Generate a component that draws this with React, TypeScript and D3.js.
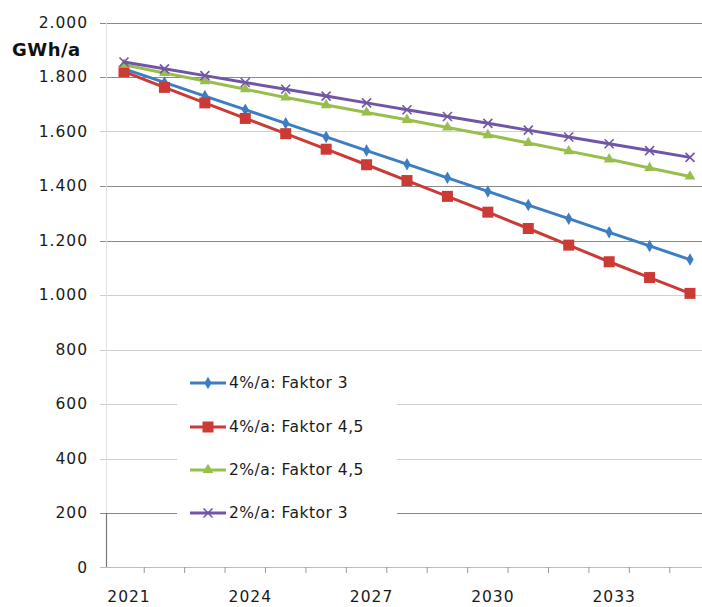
import React from "react";
import * as d3 from "d3";

const years = [2021, 2022, 2023, 2024, 2025, 2026, 2027, 2028, 2029, 2030, 2031, 2032, 2033, 2034, 2035];
const xTickLabels = [2021, 2024, 2027, 2030, 2033];
const yTicks = [0, 200, 400, 600, 800, 1000, 1200, 1400, 1600, 1800, 2000];
const darkGrid = [200, 1200, 1400, 1800, 2000];

const blue4F3 = [1830, 1780, 1730, 1680, 1630, 1580, 1530, 1480, 1430, 1380, 1330, 1280, 1230, 1180, 1130];
const red4F45 = [1820, 1762, 1705, 1648, 1592, 1535, 1478, 1420, 1362, 1304, 1244, 1183, 1122, 1064, 1006];
const green2F45 = [1845, 1815, 1785, 1755, 1725, 1697, 1670, 1643, 1615, 1587, 1558, 1528, 1498, 1466, 1435];
const purple2F3 = [1855, 1830, 1805, 1780, 1755, 1730, 1705, 1680, 1655, 1630, 1605, 1580, 1555, 1530, 1505];

const seriesNames = ["4%/a: Faktor 3", "4%/a: Faktor 4,5", "2%/a: Faktor 4,5", "2%/a: Faktor 3"];
const seriesValues = [blue4F3, red4F45, green2F45, purple2F3];
const seriesColors = ["#3C7DC4", "#CC3A36", "#98BE4C", "#7256A6"];
const seriesMarkers = ["diamond", "square", "triangle", "x"];

const W = 702;
const H = 607;
const font = "'DejaVu Sans', Verdana, sans-serif";

function Marker({ kind, x, y, color }: { kind: string; x: number; y: number; color: string }) {
  if (kind === "diamond") {
    const p = d3.symbol(d3.symbolDiamond, 45)();
    return <path d={p || ""} transform={`translate(${x},${y})`} fill={color} />;
  }
  if (kind === "square") {
    return <rect x={x - 5.5} y={y - 5.5} width={11} height={11} fill={color} />;
  }
  if (kind === "triangle") {
    const p = d3.symbol(d3.symbolTriangle, 50)();
    return <path d={p || ""} transform={`translate(${x},${y})`} fill={color} />;
  }
  const r = 4.5;
  return (
    <g transform={`translate(${x},${y})`} stroke={color} strokeWidth={1.6}>
      <line x1={-r} y1={-r} x2={r} y2={r} />
      <line x1={-r} y1={r} x2={r} y2={-r} />
    </g>
  );
}

export default function App() {
  const x = d3.scaleLinear().domain([2021, 2035]).range([124, 690]);
  const y = d3.scaleLinear().domain([0, 2000]).range([567.5, 22.5]);
  const line = d3
    .line<number>()
    .x((_, i) => x(years[i]))
    .y((v) => y(v));

  const legendY = [383, 427, 470, 513];

  return (
    <svg
      width={W}
      height={H}
      style={{ position: "absolute", left: 0, top: 0, background: "#fff" }}
      fontFamily={font}
    >
      <rect x={0} y={0} width={W} height={H} fill="#fff" />
      {/* gridlines */}
      {yTicks.filter((t) => t > 0).map((t) => (
        <line
          key={t}
          x1={100}
          x2={W}
          y1={Math.round(y(t)) + 0.5}
          y2={Math.round(y(t)) + 0.5}
          stroke={darkGrid.includes(t) ? "#8a8a8a" : "#cfcfcf"}
          strokeWidth={1.2}
        />
      ))}
      {/* y axis */}
      <line x1={106.5} x2={106.5} y1={22} y2={y(200)} stroke="#e2e2e2" />
      <line x1={106.5} x2={106.5} y1={y(200)} y2={567} stroke="#777" strokeWidth={1.2} />
      {/* x axis */}
      <line x1={100} x2={W} y1={567.5} y2={567.5} stroke="#bdbdbd" />
      {years.map((yr) => (
        <line
          key={yr}
          x1={x(yr + 0.5)}
          x2={x(yr + 0.5)}
          y1={567}
          y2={573}
          stroke="#999"
        />
      ))}
      {/* y tick labels */}
      {yTicks.map((t) => (
        <text
          key={t}
          x={88}
          y={y(t)}
          dy="0.35em"
          textAnchor="end"
          fontSize={15.5}
          letterSpacing={1}
          fill="#1a1a1a"
        >
          {d3.format(",")(t).replace(/,/g, ".")}
        </text>
      ))}
      <text x={12} y={50} dy="0.35em" fontSize={18} fontWeight="bold" letterSpacing={0.5} fill="#111">
        GWh/a
      </text>
      {/* x tick labels */}
      {xTickLabels.map((yr) => (
        <text
          key={yr}
          x={x(yr) + 5}
          y={597}
          dy="0.35em"
          textAnchor="middle"
          fontSize={15.5}
          letterSpacing={1}
          fill="#1a1a1a"
        >
          {yr}
        </text>
      ))}
      {/* series */}
      {seriesValues.map((vals, si) => (
        <g key={si}>
          <path d={line(vals) || ""} fill="none" stroke={seriesColors[si]} strokeWidth={3} />
          {vals.map((v, i) => (
            <Marker key={i} kind={seriesMarkers[si]} x={x(years[i])} y={y(v)} color={seriesColors[si]} />
          ))}
        </g>
      ))}
      {/* legend */}
      <rect x={177} y={365} width={220} height={166} fill="#fff" />
      {seriesNames.map((name, si) => (
        <g key={si}>
          <line
            x1={190}
            x2={226}
            y1={legendY[si]}
            y2={legendY[si]}
            stroke={seriesColors[si]}
            strokeWidth={3}
          />
          <Marker kind={seriesMarkers[si]} x={208} y={legendY[si]} color={seriesColors[si]} />
          <text x={229} y={legendY[si]} dy="0.35em" fontSize={15.5} letterSpacing={0.5} fill="#1a1a1a">
            {name}
          </text>
        </g>
      ))}
    </svg>
  );
}
